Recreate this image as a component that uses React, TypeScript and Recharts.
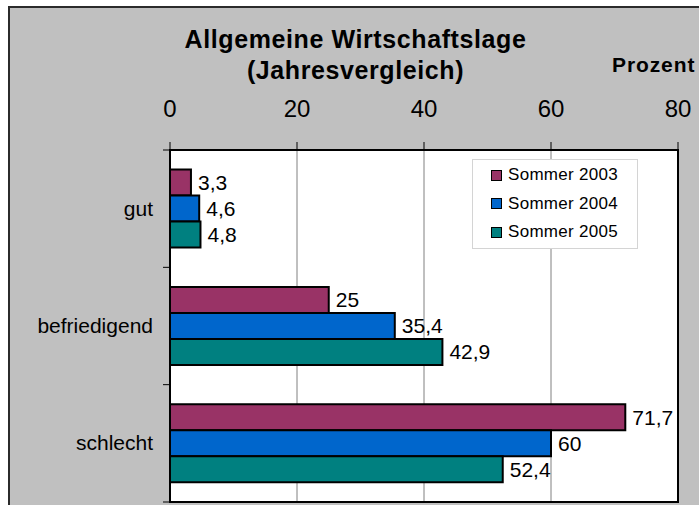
import React from "react";
import {
  BarChart, Bar, XAxis, YAxis, CartesianGrid, Legend, LabelList, ReferenceArea,
} from "recharts";

const categories = ["gut", "befriedigend", "schlecht"];
const sommer2003 = [3.3, 25, 71.7];
const sommer2004 = [4.6, 35.4, 60];
const sommer2005 = [4.8, 42.9, 52.4];
const xTicks = [0, 20, 40, 60, 80];

const series = [
  { key: "s2003", name: "Sommer 2003", color: "#993366" },
  { key: "s2004", name: "Sommer 2004", color: "#0066CC" },
  { key: "s2005", name: "Sommer 2005", color: "#008080" },
];

const data = categories.map((c, i) => ({
  name: c, s2003: sommer2003[i], s2004: sommer2004[i], s2005: sommer2005[i],
}));

const FONT = "'Liberation Sans', Arial, sans-serif";
const fmt = (v: any) => String(v).replace(".", ",");

function TopTick(props: any) {
  const { x, y, payload } = props;
  return (
    <text x={x} y={y} textAnchor="middle" fontSize={24} fontFamily={FONT} fill="#000">
      {payload.value}
    </text>
  );
}

function CatTick(props: any) {
  const { x, y, payload, index, visibleTicksCount } = props;
  const half = payload.offset ?? 0;
  return (
    <g>
      <text x={x} y={y} dy={7} textAnchor="end" fontSize={21} fontFamily={FONT} fill="#000">
        {payload.value}
      </text>
      <line x1={x + 10} x2={x + 17} y1={y - half} y2={y - half} stroke="#000" />
      {index === visibleTicksCount - 1 && (
        <line x1={x + 10} x2={x + 17} y1={y + half} y2={y + half} stroke="#000" />
      )}
    </g>
  );
}

function LegendBox(props: any) {
  const items = props.payload ?? [];
  return (
    <div style={{
      width: 166, height: 90, boxSizing: "border-box", background: "#fff",
      border: "1px solid #d4d4d4", paddingTop: 1, fontFamily: FONT,
    }}>
      {items.map((it: any) => (
        <div key={it.value} style={{ height: 28.5, display: "flex", alignItems: "center" }}>
          <span style={{
            display: "inline-block", width: 11, height: 11, boxSizing: "border-box",
            background: it.color, border: "1.5px solid #000", marginLeft: 18, marginRight: 6,
          }} />
          <span style={{ fontSize: 17, letterSpacing: 0.3, color: "#000" }}>{it.value}</span>
        </div>
      ))}
    </div>
  );
}

export default function App() {
  return (
    <div style={{ position: "absolute", left: 0, top: 0, width: 699, height: 505, overflow: "hidden" }}>
      <div style={{
        position: "absolute", left: 8, top: 6, width: 720, height: 520,
        background: "#c0c0c0", border: "2px solid #2b2b2b",
      }} />
      <div style={{
        position: "absolute", left: 0, width: 711, top: 24, textAlign: "center",
        fontFamily: FONT, fontWeight: "bold", fontSize: 25, letterSpacing: 0.6, lineHeight: "31px",
      }}>
        Allgemeine Wirtschaftslage<br />(Jahresvergleich)
      </div>
      <div style={{
        position: "absolute", left: 612, top: 53, fontFamily: FONT, fontWeight: "bold",
        fontSize: 21, letterSpacing: 0.9,
      }}>
        Prozent
      </div>
      <div style={{ position: "absolute", left: 0, top: 0 }}>
        <BarChart
          width={699}
          height={520}
          data={data}
          layout="vertical"
          margin={{ top: 90, right: 21, bottom: 18, left: 0 }}
          barGap={0}
          barCategoryGap="16.7%"
        >
          <CartesianGrid horizontal={false} stroke="#808080" fill="#fff" fillOpacity={1} />
          <XAxis
            type="number"
            orientation="top"
            domain={[0, 80]}
            ticks={xTicks}
            height={60}
            tickSize={8}
            tickMargin={25}
            axisLine={{ stroke: "#000", strokeWidth: 2 }}
            tickLine={{ stroke: "#000" }}
            tick={<TopTick />}
          />
          <YAxis
            type="category"
            dataKey="name"
            width={170}
            tickSize={7}
            tickMargin={10}
            tickLine={false}
            axisLine={{ stroke: "#000", strokeWidth: 2 }}
            tick={<CatTick />}
          />
          <Legend
            layout="vertical"
            align="center"
            verticalAlign="middle"
            wrapperStyle={{ left: 472, top: 159, width: 166, height: 90 }}
            content={<LegendBox />}
          />
          {series.map((s) => (
            <Bar key={s.key} dataKey={s.key} name={s.name} fill={s.color}
              stroke="#000" strokeWidth={2} isAnimationActive={false}>
              <LabelList dataKey={s.key} position="right" offset={7} formatter={fmt}
                fontSize={21} fontFamily={FONT} fill="#000" />
            </Bar>
          ))}
          <ReferenceArea x1={0} x2={80} fill="none" stroke="#000" strokeWidth={2} ifOverflow="visible" />
        </BarChart>
      </div>
    </div>
  );
}
